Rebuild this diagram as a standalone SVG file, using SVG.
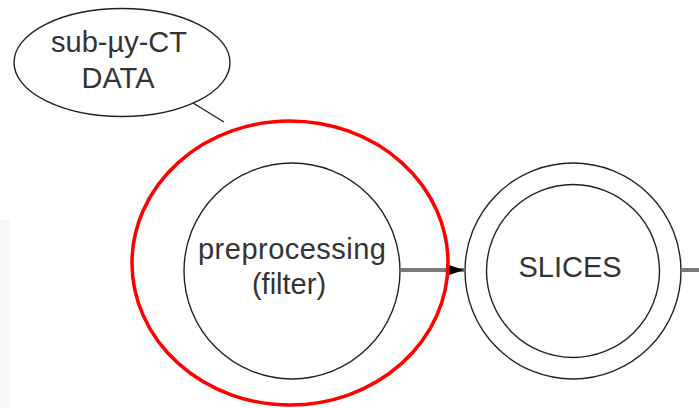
<svg xmlns="http://www.w3.org/2000/svg" width="699" height="408" viewBox="0 0 699 408">
<style>
.node{fill:#fff;stroke:#222;stroke-width:1.4}
.lbl{font-family:"Liberation Sans",Arial,sans-serif;font-size:29px;fill:#333;text-anchor:middle}
.edge{stroke:#7a7a7a;stroke-width:4;fill:none}
.thin{stroke:#222;stroke-width:1.4;fill:none}
</style>
<defs>
<marker id="arr" markerWidth="18" markerHeight="12" refX="18" refY="6" orient="auto" markerUnits="userSpaceOnUse">
<path d="M0,0 L18,6 L0,12 Z" fill="#000"/>
</marker>
</defs>
<rect width="699" height="408" fill="#fff"/>
<rect x="0" y="220" width="10" height="188" fill="#f7f7f7"/>
<g id="connectors">
<line class="thin" x1="193" y1="103" x2="224" y2="122"/>
<line class="edge" x1="401" y1="270" x2="464" y2="270" marker-end="url(#arr)"/>
<line class="edge" x1="682" y1="270" x2="699" y2="270"/>
</g>
<g id="data">
<ellipse class="node" cx="122" cy="62.5" rx="108" ry="54"/>
<text class="lbl" x="119" y="52">sub-µy-CT</text>
<text class="lbl" x="118" y="88">DATA</text>
</g>
<g id="preprocessing">
<circle class="node" cx="292" cy="271" r="108"/>
<text class="lbl" x="292" y="259" textLength="188" lengthAdjust="spacing">preprocessing</text>
<text class="lbl" x="289" y="294">(filter)</text>
</g>
<g id="slices">
<circle class="node" cx="573" cy="271" r="108"/>
<circle class="node" cx="573" cy="271" r="86.5"/>
<text class="lbl" x="570" y="277">SLICES</text>
</g>
<g id="highlight">
<ellipse cx="290" cy="263" rx="158" ry="142" fill="none" stroke="#ff0000" stroke-width="3.5"/>
</g>
</svg>
